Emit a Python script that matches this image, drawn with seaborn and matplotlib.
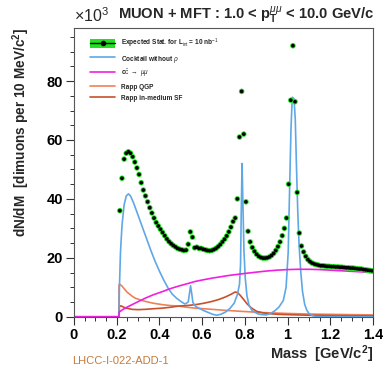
import numpy as np
import pandas as pd
import matplotlib
matplotlib.use("Agg")
import matplotlib.pyplot as plt
import seaborn as sns
from matplotlib.patches import Patch
from matplotlib.lines import Line2D

# ---------------- data ----------------
data_vals = [36, 47, 53.5, 55.5, 56, 55.5, 54.3, 52.5, 50.5, 48.3,
             45.5, 43, 41, 39, 37, 35.2, 33.5, 32, 30.8, 29.7,
             28.6, 27.5, 26.4, 25.5, 24.8, 24.2, 23.7, 23.2, 22.9, 22.7,
             22.5, 22.6, 24.6, 28.8, 27, 23.4, 23.6, 23.2, 23.2, 22.9,
             22.7, 22.5, 22.4, 22.5, 22.8, 23.2, 23.8, 24.5, 25.4, 26.3,
             27.4, 28.8, 30.4, 32.3, 33.5, 40, 61, 76.5, 62, 39,
             29, 25.4, 23.5, 22.2, 21.2, 20.5, 20.1, 19.9, 19.9, 20.0,
             20.3, 20.8, 21.5, 22.5, 23.8, 25.4, 27.5, 30, 33.5, 45,
             73.5, 92, 73, 42.2, 28.4, 24, 22, 20.5, 19.4, 18.7,
             18.2, 17.9, 17.7, 17.5, 17.3, 17.3, 17.2, 17.1, 17.1, 17.0,
             17.0, 16.9, 16.9, 16.8, 16.8, 16.7, 16.6, 16.6, 16.5, 16.5,
             16.4, 16.3, 16.2, 16.2, 16.0, 15.9, 15.8, 15.7, 15.6]
data_mass = np.round(0.215 + 0.01 * np.arange(len(data_vals)), 3)

cock_m = [0.0, 0.205, 0.211, 0.213, 0.218, 0.225, 0.235, 0.245, 0.255, 0.265,
          0.28, 0.30, 0.32, 0.34, 0.36, 0.38, 0.40, 0.42, 0.44, 0.46,
          0.48, 0.50, 0.52, 0.535, 0.541, 0.546, 0.551, 0.557, 0.57, 0.585,
          0.61, 0.63, 0.65, 0.67, 0.69, 0.71, 0.73, 0.75, 0.765, 0.775,
          0.78, 0.783, 0.787, 0.791, 0.796, 0.802, 0.81, 0.82, 0.835, 0.86,
          0.88, 0.90, 0.92, 0.94, 0.96, 0.98, 0.993, 1.003, 1.01, 1.016,
          1.022, 1.03, 1.036, 1.042, 1.048, 1.054, 1.062, 1.07, 1.08, 1.09,
          1.10, 1.115, 1.13, 1.15, 1.40]
cock_v = [0, 0, 0, 10, 22, 31, 38, 41, 41.7, 41,
          38.5, 34.5, 30.5, 26.5, 22.5, 18.8, 15.5, 12.5, 9.8, 7.7,
          6.3, 5.2, 4.3, 5, 8, 10.5, 8, 4.8, 3.5, 2.9,
          2.0, 1.4, 0.8, 0.5, 0.9, 1.6, 2.8, 4.6, 7.5, 11,
          18, 35, 52, 38, 22, 13, 7, 3.8, 2.0, 1.0,
          0.7, 0.6, 1.1, 2.0, 3.3, 5.5, 10, 22, 45, 64,
          74.5, 74, 67, 50, 35, 24, 15, 8.5, 4.2, 2.2,
          1.1, 0.4, 0.1, 0, 0]

ccbar_m = [0.0, 0.21, 0.212, 0.23, 0.25, 0.272, 0.30, 0.334, 0.37, 0.413,
           0.45, 0.49, 0.53, 0.569, 0.61, 0.647, 0.69, 0.725, 0.79, 0.85,
           0.90, 0.95, 1.0, 1.05, 1.10, 1.15, 1.20, 1.25, 1.30, 1.35, 1.40]
ccbar_v = [0, 0, 1.6, 2.5, 3.3, 4.1, 5.1, 6.3, 7.4, 8.5,
           9.5, 10.4, 11.2, 12.0, 12.6, 13.1, 13.6, 14.0, 14.6, 15.1,
           15.5, 15.8, 16.0, 16.1, 16.1, 16.0, 15.8, 15.6, 15.4, 15.2, 14.9]

qgp_m = [0.21, 0.211, 0.215, 0.225, 0.248, 0.27, 0.287, 0.31, 0.334, 0.37,
         0.413, 0.45, 0.49, 0.53, 0.569, 0.61, 0.647, 0.70, 0.788, 0.887,
         1.0, 1.1, 1.2, 1.3, 1.4]
qgp_v = [0, 10.8, 11.0, 10.4, 8.4, 7.1, 6.3, 5.7, 5.2, 4.6,
         4.1, 3.8, 3.6, 3.2, 2.9, 2.7, 2.5, 2.2, 1.8, 1.4,
         1.1, 0.9, 0.8, 0.7, 0.6]

sf_m = [0.211, 0.213, 0.22, 0.24, 0.272, 0.30, 0.334, 0.37, 0.413, 0.45,
        0.49, 0.53, 0.569, 0.61, 0.647, 0.68, 0.709, 0.735, 0.755, 0.765,
        0.778, 0.795, 0.81, 0.83, 0.856, 0.885, 0.919, 0.96, 1.0, 1.1,
        1.2, 1.3, 1.4]
sf_v = [0, 3.5, 3.7, 3.0, 2.5, 2.4, 2.5, 2.7, 2.9, 3.2,
        3.6, 3.8, 4.1, 4.6, 5.2, 5.9, 6.7, 7.6, 8.4, 8.2,
        7.3, 5.8, 4.4, 3.0, 1.8, 1.3, 1.0, 0.8, 0.7, 0.5,
        0.4, 0.3, 0.3]

legend_labels = [r"Expected Stat. for L$_{\rm int}$ = 10 nb$^{-1}$",
                 r"Cocktail without $\rho$",
                 r"c$\bar{\rm c}$ $\rightarrow$ $\mu\mu$",
                 "Rapp QGP",
                 "Rapp in-medium SF"]

# ---------------- style ----------------
sns.set_theme(style="white")
plt.rcParams['font.family'] = ['Liberation Sans', 'DejaVu Sans']
plt.rcParams['mathtext.fontset'] = 'custom'
plt.rcParams['mathtext.rm'] = 'Liberation Sans'
plt.rcParams['mathtext.it'] = 'Liberation Sans:italic'
plt.rcParams['mathtext.bf'] = 'Liberation Sans:bold'

C_BLUE = '#5fa8e6'
C_MAG = '#f020e0'
C_QGP = '#f08058'
C_SF = '#c8502c'
C_GREEN = '#22e022'

fig = plt.figure(figsize=(3.83, 3.69), dpi=100)
ax = fig.add_axes([0.193, 0.1417, 0.781, 0.7823])

sns.lineplot(x=qgp_m, y=qgp_v, ax=ax, color=C_QGP, lw=1.2, sort=False, estimator=None)
sns.lineplot(x=sf_m, y=sf_v, ax=ax, color=C_SF, lw=1.2, sort=False, estimator=None)
sns.lineplot(x=cock_m, y=cock_v, ax=ax, color=C_BLUE, lw=1.2, sort=False, estimator=None)
sns.lineplot(x=ccbar_m, y=ccbar_v, ax=ax, color=C_MAG, lw=1.2, sort=False, estimator=None)

df = pd.DataFrame({'mass': data_mass, 'val': data_vals})
sns.scatterplot(data=df, x='mass', y='val', ax=ax, marker='o', s=16, color=C_GREEN,
                edgecolor='none', zorder=5)
sns.scatterplot(data=df, x='mass', y='val', ax=ax, marker='o', s=7, color='black',
                edgecolor='none', zorder=6)

ax.set_xlim(0, 1.4)
ax.set_ylim(0, 98)
ax.set_xticks([0, 0.2, 0.4, 0.6, 0.8, 1.0, 1.2, 1.4])
ax.set_xticklabels(['0', '0.2', '0.4', '0.6', '0.8', '1', '1.2', '1.4'])
ax.set_yticks([0, 20, 40, 60, 80])
ax.set_xticks(np.arange(0, 1.41, 0.05), minor=True)
ax.set_yticks(np.arange(0, 98, 5), minor=True)
ax.tick_params(axis='both', which='major', direction='out', length=6, width=0.8,
               labelsize=10.5, pad=2, colors='#333333', labelcolor='black')
ax.tick_params(axis='both', which='minor', direction='out', length=3, width=0.7,
               colors='#333333')
ax.tick_params(axis='both', which='both', bottom=True, left=True, top=False, right=False)
for lab in ax.get_xticklabels() + ax.get_yticklabels():
    lab.set_fontweight('bold')
for sp in ax.spines.values():
    sp.set_color('#555555')
    sp.set_linewidth(0.8)

ax.set_xlabel(r"Mass  [GeV/c$^{\mathbf{2}}$]", fontsize=10.5, fontweight='bold', loc='right',
              labelpad=1)
ax.set_ylabel(r"dN/dM  [dimuons per 10 MeV/c$^{\mathbf{2}}$]", fontsize=9.8, fontweight='bold',
              loc='top', labelpad=10)

ax.text(0.0, 1.012, r"$\times$10$^{3}$", transform=ax.transAxes, ha='left', va='bottom',
        fontsize=11.5)
fig.text(0.643, 0.958, r"MUON + MFT : 1.0 < p$_{\mathbf{T}}^{\mu\mu}$ < 10.0 GeV/c",
         ha='center', va='center', fontsize=10.6, fontweight='bold')
fig.text(0.188, 0.022, "LHCC-I-022-ADD-1", ha='left', va='center', fontsize=8,
         color='#c47a3c')

h_data = (Patch(facecolor=C_GREEN, edgecolor='none'),
          Line2D([], [], color='black', lw=1.0, marker='o', markersize=3))
handles = [h_data,
           Line2D([], [], color=C_BLUE, lw=1.2),
           Line2D([], [], color=C_MAG, lw=1.2),
           Line2D([], [], color=C_QGP, lw=1.2),
           Line2D([], [], color=C_SF, lw=1.2)]
leg = ax.legend(handles, legend_labels, loc='upper left', bbox_to_anchor=(0.045, 0.978),
                frameon=False, prop={'size': 4.7, 'weight': 'bold'},
                handlelength=3.9, handleheight=1.6, labelspacing=0.5, handletextpad=0.8,
                borderaxespad=0)

fig.savefig('out.png', dpi=100)
